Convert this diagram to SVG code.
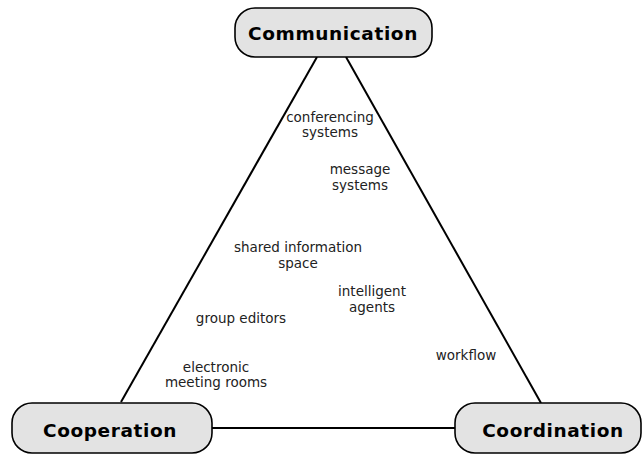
<svg xmlns="http://www.w3.org/2000/svg" width="643" height="455" viewBox="0 0 643 455">
<style>
.box{fill:#e3e3e3;stroke:#000;stroke-width:1.6}
.hd{font-family:"DejaVu Sans",Verdana,sans-serif;font-weight:bold;font-size:18.5px;text-anchor:middle;fill:#000;letter-spacing:0.6px}
.lb{font-family:"DejaVu Sans",Verdana,sans-serif;font-size:13.5px;text-anchor:middle;fill:#222}
.ln{stroke:#000;stroke-width:2;fill:none}
</style>
<rect width="643" height="455" fill="#fff"/>
<g id="connectors">
<line class="ln" x1="317" y1="57" x2="121" y2="402"/>
<line class="ln" x1="346" y1="57" x2="541" y2="403"/>
<line class="ln" x1="212" y1="428" x2="455" y2="428"/>
</g>
<g id="labels">
<text class="lb" x="330" y="122">conferencing</text>
<text class="lb" x="330" y="137">systems</text>
<text class="lb" x="360" y="174">message</text>
<text class="lb" x="360" y="190">systems</text>
<text class="lb" x="298" y="252">shared information</text>
<text class="lb" x="298" y="268">space</text>
<text class="lb" x="372" y="296">intelligent</text>
<text class="lb" x="372" y="312">agents</text>
<text class="lb" x="241" y="323">group editors</text>
<text class="lb" x="216" y="372">electronic</text>
<text class="lb" x="216" y="387">meeting rooms</text>
<text class="lb" x="466" y="360">workflow</text>
</g>
<g id="communication">
<rect class="box" x="235" y="8" width="197" height="49" rx="20"/>
<text class="hd" x="333" y="40">Communication</text>
</g>
<g id="cooperation">
<rect class="box" x="12" y="403" width="200" height="50" rx="20"/>
<text class="hd" x="110" y="437">Cooperation</text>
</g>
<g id="coordination">
<rect class="box" x="455" y="403" width="186" height="50" rx="20"/>
<text class="hd" x="553" y="437">Coordination</text>
</g>
</svg>
